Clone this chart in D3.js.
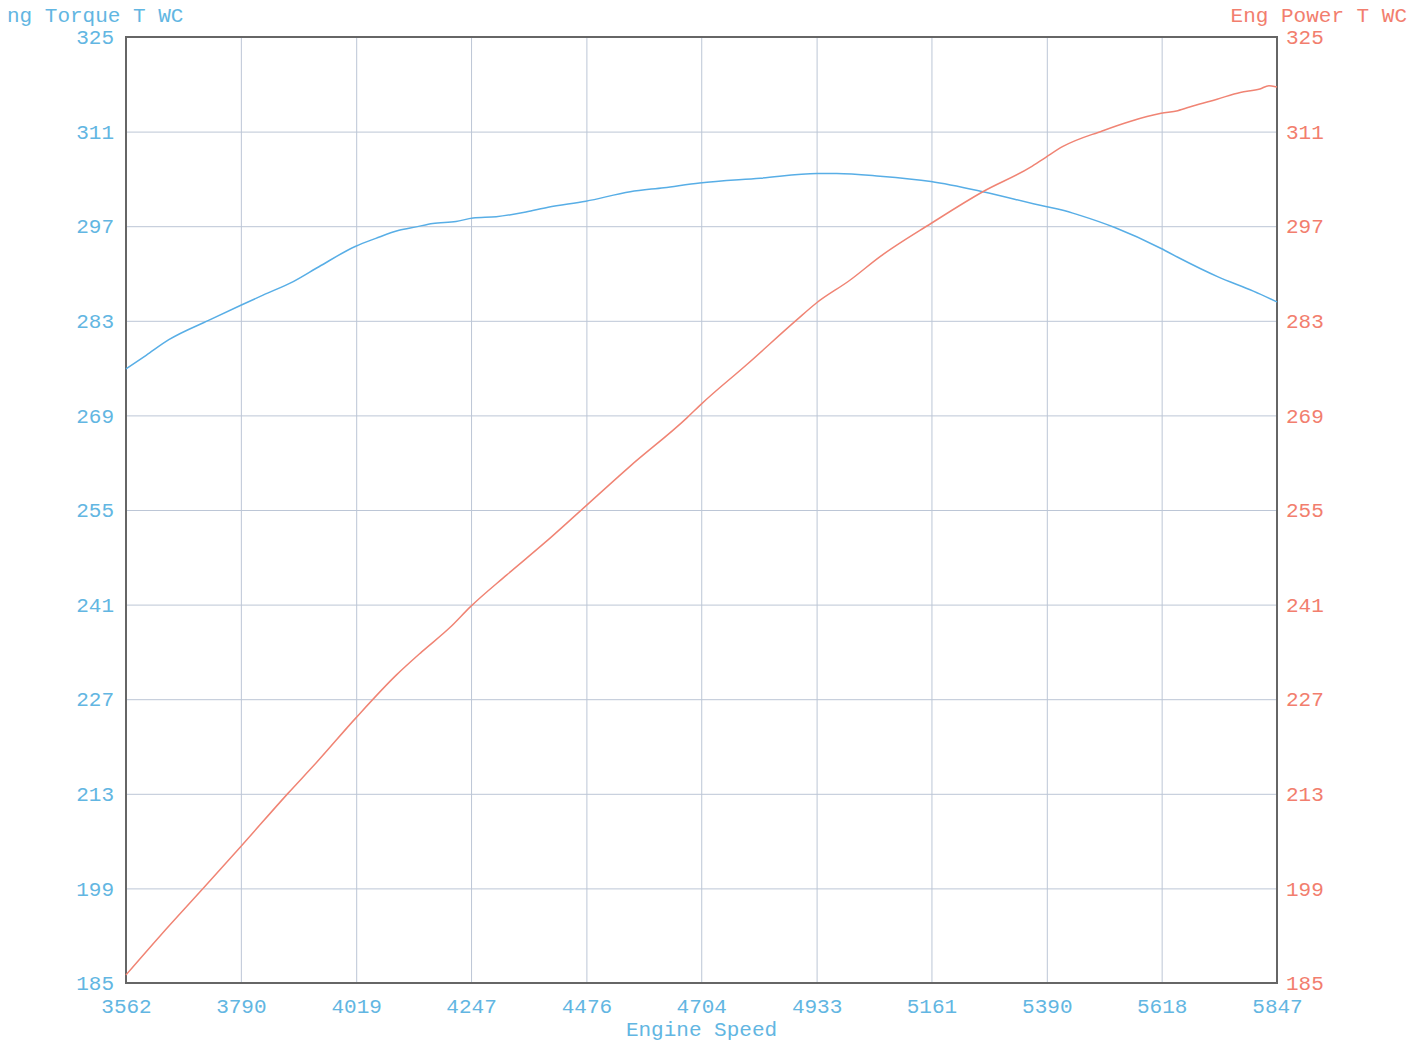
<!DOCTYPE html>
<html>
<head>
<meta charset="utf-8">
<script src="https://cdn.jsdelivr.net/npm/d3@7"></script>
<style>
  body { margin: 0; background: #fff; }
  svg { display: block; }
  text { font-family: "Liberation Mono", "DejaVu Sans Mono", monospace; }
</style>
</head>
<body>
<div id="chart"></div>
<script>
// tick labels
const rpmTicks = [3562, 3790, 4019, 4247, 4476, 4704, 4933, 5161, 5390, 5618, 5847];
const valueTicks = [185, 199, 213, 227, 241, 255, 269, 283, 297, 311, 325];

// Eng Torque T WC (blue, left axis)
const torqueRpm = [3562, 3602, 3647, 3727, 3790, 3834, 3894, 3945, 4017, 4058, 4104, 4138, 4171,
    4217, 4251, 4297, 4356, 4400, 4475, 4563, 4630, 4701, 4821, 4934, 4973, 5059, 5160, 5263,
    5388, 5420, 5456, 5525, 5617, 5650, 5730, 5800, 5847];
const torqueVals = [275.9, 277.9, 280.2, 283.1, 285.3, 286.8, 288.8, 291.0, 294.0, 295.2, 296.4, 296.9, 297.4,
    297.7, 298.2, 298.4, 299.1, 299.8, 300.7, 302.1, 302.7, 303.4, 304.1, 304.8, 304.8, 304.4, 303.6, 302.1,
    299.9, 299.4, 298.6, 296.8, 293.7, 292.4, 289.5, 287.4, 285.8];

// Eng Power T WC (red, right axis)
const powerRpm = [3562, 3630, 3709, 3790, 3884, 3941, 4018, 4099, 4149, 4205, 4246, 4318, 4394, 4463,
    4563, 4675, 4703, 4794, 4893, 4932, 4999, 5059, 5160, 5263, 5357, 5388, 5422, 5500, 5555,
    5617, 5650, 5680, 5728, 5774, 5813, 5831, 5847];
const powerVals = [186.2, 192.0, 198.5, 205.2, 213.1, 217.7, 224.2, 230.6, 234.0, 237.6, 240.7, 245.4, 250.2, 254.8,
    261.5, 268.6, 270.6, 276.5, 283.1, 285.6, 289.0, 292.5, 297.4, 302.1, 305.7, 307.2, 308.8, 311.1, 312.5,
    313.7, 314.1, 314.8, 315.8, 316.8, 317.3, 317.8, 317.6];

const width = 1417;
const height = 1042;
const margin = { top: 37, right: 140, bottom: 59, left: 126 };
const blue = '#62b6e2';
const red = '#f27e6e';
const blueLine = '#58aee6';
const redLine = '#f08474';
const fontSize = '21px';

const svg = d3.select('#chart')
    .append('svg')
    .attr('width', width)
    .attr('height', height);

const x = d3.scaleLinear()
    .domain([rpmTicks[0], rpmTicks[rpmTicks.length - 1]])
    .range([margin.left, width - margin.right]);

const y = d3.scaleLinear()
    .domain([185, 325])
    .range([height - margin.bottom, margin.top]);

const plotW = width - margin.left - margin.right;
const plotH = height - margin.top - margin.bottom;

// gridlines
svg.append('g')
    .attr('class', 'grid-x')
    .attr('transform', `translate(0, ${height - margin.bottom})`)
    .call(d3.axisBottom(x).tickValues(rpmTicks).tickFormat('').tickSize(-plotH))
    .call(g => g.select('.domain').remove())
    .call(g => g.selectAll('line').attr('stroke', '#bcc6d6').attr('stroke-width', 1));

svg.append('g')
    .attr('class', 'grid-y')
    .attr('transform', `translate(${margin.left}, 0)`)
    .call(d3.axisLeft(y).tickValues(valueTicks).tickFormat('').tickSize(-plotW))
    .call(g => g.select('.domain').remove())
    .call(g => g.selectAll('line').attr('stroke', '#bcc6d6').attr('stroke-width', 1));

// frame
svg.append('rect')
    .attr('x', margin.left)
    .attr('y', margin.top)
    .attr('width', plotW)
    .attr('height', plotH)
    .attr('fill', 'none')
    .attr('stroke', '#666')
    .attr('stroke-width', 2);

// axes labels
svg.append('g')
    .attr('transform', `translate(${margin.left}, 0)`)
    .call(d3.axisLeft(y).tickValues(valueTicks).tickSize(0).tickPadding(12))
    .call(g => g.select('.domain').remove())
    .call(g => g.selectAll('text').attr('fill', blue).style('font-size', fontSize));

svg.append('g')
    .attr('transform', `translate(${width - margin.right}, 0)`)
    .call(d3.axisRight(y).tickValues(valueTicks).tickSize(0).tickPadding(9))
    .call(g => g.select('.domain').remove())
    .call(g => g.selectAll('text').attr('fill', red).style('font-size', fontSize));

svg.append('g')
    .attr('transform', `translate(0, ${height - margin.bottom})`)
    .call(d3.axisBottom(x).tickValues(rpmTicks).tickFormat(d3.format('d')).tickSize(0).tickPadding(15))
    .call(g => g.select('.domain').remove())
    .call(g => g.selectAll('text').attr('fill', blue).style('font-size', fontSize));

// curves
const torque = torqueRpm.map((r, i) => ({ rpm: r, v: torqueVals[i] }));
const power = powerRpm.map((r, i) => ({ rpm: r, v: powerVals[i] }));

const line = d3.line()
    .x(d => x(d.rpm))
    .y(d => y(d.v))
    .curve(d3.curveMonotoneX);

svg.append('path')
    .datum(torque)
    .attr('d', line)
    .attr('fill', 'none')
    .attr('stroke', blueLine)
    .attr('stroke-width', 1.5);

svg.append('path')
    .datum(power)
    .attr('d', line)
    .attr('fill', 'none')
    .attr('stroke', redLine)
    .attr('stroke-width', 1.5);

// titles (left one is clipped in the original scan, only "ng Torque T WC" shows)
svg.append('text')
    .attr('x', 7)
    .attr('y', 22)
    .attr('fill', blue)
    .style('font-size', fontSize)
    .text('ng Torque T WC');

svg.append('text')
    .attr('x', 1407)
    .attr('y', 22)
    .attr('text-anchor', 'end')
    .attr('fill', red)
    .style('font-size', fontSize)
    .text('Eng Power T WC');

svg.append('text')
    .attr('x', x((rpmTicks[0] + rpmTicks[rpmTicks.length - 1]) / 2))
    .attr('y', 1036)
    .attr('text-anchor', 'middle')
    .attr('fill', blue)
    .style('font-size', fontSize)
    .text('Engine Speed');
</script>
</body>
</html>
